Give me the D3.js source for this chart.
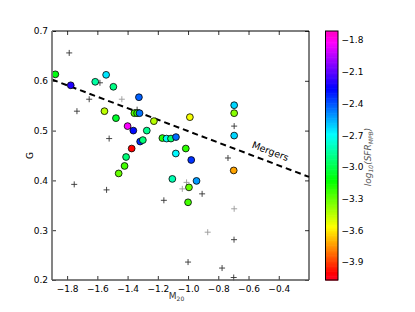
<!DOCTYPE html>
<html>
<head>
<meta charset="utf-8">
<script src="https://cdn.jsdelivr.net/npm/d3@7"></script>
<style>
  body { margin: 0; background: #fff; }
  text { font-family: "DejaVu Sans", sans-serif; }
</style>
</head>
<body>
<div id="chart"></div>
<script>
// galaxies with a measured SFR (coloured circles)
var m20 = [-1.878, -1.776, -1.614, -1.542, -1.494, -1.553, -1.477, -1.400, -1.362, -1.325,
           -1.355, -1.337, -1.321, -1.373, -1.317, -1.299, -1.273, -1.226, -0.988, -1.170,
           -1.142, -1.113, -1.080, -1.015, -1.081, -0.979, -1.410, -1.420, -1.459, -1.104,
           -0.944, -0.994, -1.000, -0.695, -0.695, -0.695, -0.698]
var gini = [0.613, 0.591, 0.598, 0.612, 0.588, 0.539, 0.525, 0.509, 0.500, 0.567,
            0.535, 0.535, 0.535, 0.464, 0.478, 0.481, 0.500, 0.519, 0.527, 0.485,
            0.484, 0.484, 0.487, 0.464, 0.454, 0.441, 0.447, 0.429, 0.414, 0.403,
            0.399, 0.386, 0.356, 0.551, 0.535, 0.490, 0.420]
var logSfr = [-3.10, -2.20, -2.85, -2.65, -2.90, -3.45, -3.05, -1.83, -2.27, -2.42,
              -3.27, -3.22, -2.45, -4.00, -2.33, -2.92, -2.88, -3.44, -3.55, -3.20,
              -2.70, -2.93, -2.44, -3.20, -2.68, -2.34, -2.92, -3.24, -3.30, -2.82,
              -2.52, -3.30, -3.24, -2.62, -3.36, -2.62, -3.72]

// galaxies without SFR (plus markers)
var plusM20 = [-1.786, -1.583, -1.654, -1.735, -1.522, -1.337, -1.753, -1.539, -1.160, -0.907,
               -1.000, -0.736, -0.695, -0.696, -0.775, -0.698]
var plusG = [0.656, 0.596, 0.563, 0.539, 0.484, 0.542, 0.392, 0.381, 0.360, 0.373,
             0.236, 0.445, 0.509, 0.281, 0.224, 0.205]
var faintM20 = [-1.438, -1.010, -1.038, -0.870, -0.695]
var faintG = [0.563, 0.396, 0.383, 0.296, 0.343]

var xTicks = [-1.8, -1.6, -1.4, -1.2, -1.0, -0.8, -0.6, -0.4]
var yTicks = [0.2, 0.3, 0.4, 0.5, 0.6, 0.7]
var cbTicks = [-1.8, -2.1, -2.4, -2.7, -3.0, -3.3, -3.6, -3.9]

// merger line G = -0.115 M20 + 0.384
var mergerSlope = -0.115
var mergerIntercept = 0.384
var mergerLabelAt = -0.48

var width = 415, height = 312
var margin = { top: 31, left: 52, right: 106, bottom: 32 }
var plotW = width - margin.left - margin.right
var plotH = height - margin.top - margin.bottom

var svg = d3.select("#chart").append("svg")
    .attr("width", width)
    .attr("height", height)

var g = svg.append("g")
    .attr("transform", `translate(${margin.left}, ${margin.top})`)

var x = d3.scaleLinear().domain([-1.9, -0.2]).range([0, plotW])
var y = d3.scaleLinear().domain([0.2, 0.7]).range([plotH, 0])

// gist_rainbow colormap
var vmin = -4.07, vmax = -1.715
var rainbow = d3.scaleLinear()
    .domain([0, 0.03, 0.215, 0.4, 0.586, 0.77, 0.954, 1])
    .range(["#ff0029", "#ff0000", "#ffff00", "#00ff00", "#00ffff", "#0000ff", "#ff00ff", "#ff00bf"])
var norm = d3.scaleLinear().domain([vmin, vmax]).range([0, 1])
var color = v => rainbow(norm(v))

// axes with inward ticks
var fmt = d3.format(".1f")
function styleAxis(sel) {
    sel.select(".domain").remove()
    sel.selectAll("line").attr("stroke", "#333")
    sel.selectAll("text").attr("font-size", 9).attr("fill", "#000")
}

g.append("g")
    .attr("transform", `translate(0,${plotH})`)
    .call(d3.axisBottom(x).tickValues(xTicks).tickFormat(fmt).tickSize(-4).tickPadding(6))
    .call(styleAxis)
g.append("g")
    .call(d3.axisTop(x).tickValues(xTicks).tickFormat("").tickSize(-4))
    .call(styleAxis)
g.append("g")
    .call(d3.axisLeft(y).tickValues(yTicks).tickFormat(fmt).tickSize(-4).tickPadding(4))
    .call(styleAxis)
g.append("g")
    .attr("transform", `translate(${plotW},0)`)
    .call(d3.axisRight(y).tickValues(yTicks).tickFormat("").tickSize(-4))
    .call(styleAxis)

// merger line
var line = m => mergerSlope * m + mergerIntercept
var xd = x.domain()
g.append("line")
    .attr("x1", x(xd[0])).attr("y1", y(line(xd[0])))
    .attr("x2", x(xd[1])).attr("y2", y(line(xd[1])))
    .attr("stroke", "#000")
    .attr("stroke-width", 2)
    .attr("stroke-dasharray", "6,4")

var angle = Math.atan2(y(line(xd[1])) - y(line(xd[0])), x(xd[1]) - x(xd[0])) * 180 / Math.PI
g.append("text")
    .attr("transform", `translate(${x(mergerLabelAt)},${y(line(mergerLabelAt))}) rotate(${angle})`)
    .attr("y", -7)
    .attr("text-anchor", "middle")
    .attr("font-size", 9.5)
    .text("Mergers")

// plus markers
function drawPlus(xs, ys, col) {
    g.selectAll(null)
        .data(xs.map((v, i) => [v, ys[i]]))
        .enter()
        .append("path")
        .attr("d", d => `M${x(d[0]) - 3},${y(d[1])}h6M${x(d[0])},${y(d[1]) - 3}v6`)
        .attr("stroke", col)
        .attr("stroke-width", 0.9)
}
drawPlus(plusM20, plusG, "#333")
drawPlus(faintM20, faintG, "#999")

// coloured circles
g.selectAll(null)
    .data(m20.map((v, i) => ({ m: v, g: gini[i], s: logSfr[i] })))
    .enter()
    .append("circle")
    .attr("cx", d => x(d.m))
    .attr("cy", d => y(d.g))
    .attr("r", 3.4)
    .attr("fill", d => color(d.s))
    .attr("stroke", "#000")
    .attr("stroke-width", 0.8)

// frame
g.append("line").attr("x1", 0).attr("x2", plotW).attr("y1", 0).attr("y2", 0).attr("stroke", "#000").attr("stroke-width", 1)
g.append("line").attr("x1", plotW).attr("x2", plotW).attr("y1", 0).attr("y2", plotH).attr("stroke", "#000").attr("stroke-width", 1)
g.append("line").attr("x1", 0).attr("x2", 0).attr("y1", 0).attr("y2", plotH).attr("stroke", "#777").attr("stroke-width", 1.8)
g.append("line").attr("x1", 0).attr("x2", plotW).attr("y1", plotH).attr("y2", plotH).attr("stroke", "#555").attr("stroke-width", 1.6)

// axis labels
svg.append("text")
    .attr("transform", `translate(33,${margin.top + plotH / 2}) rotate(-90)`)
    .attr("text-anchor", "middle")
    .attr("font-size", 9)
    .text("G")
var xl = svg.append("text")
    .attr("x", margin.left + plotW / 2 - 4)
    .attr("y", 299)
    .attr("text-anchor", "middle")
    .attr("font-size", 9)
    .attr("fill", "#333")
xl.append("tspan").text("M")
xl.append("tspan").attr("font-size", 6).attr("dy", 2).text("20")

// colorbar
var cbX = 325.5, cbW = 12.5, cbTop = 31, cbBot = 280
var cy = d3.scaleLinear().domain([vmin, vmax]).range([cbBot, cbTop])
var steps = d3.range(0, 200)
svg.append("g").selectAll("rect")
    .data(steps)
    .enter()
    .append("rect")
    .attr("x", cbX)
    .attr("width", cbW)
    .attr("y", i => cy(vmin + (i + 1) * (vmax - vmin) / 200))
    .attr("height", (cbBot - cbTop) / 200 + 0.6)
    .attr("fill", i => color(vmin + (i + 0.5) * (vmax - vmin) / 200))
svg.append("rect")
    .attr("x", cbX).attr("y", cbTop).attr("width", cbW).attr("height", cbBot - cbTop)
    .attr("fill", "none").attr("stroke", "#000").attr("stroke-width", 1)

svg.append("g")
    .attr("transform", `translate(${cbX + cbW},0)`)
    .call(d3.axisRight(cy).tickValues(cbTicks).tickFormat(fmt).tickSize(0).tickPadding(3.5))
    .call(styleAxis)

var cl = svg.append("text")
    .attr("transform", `translate(371,157) rotate(-90)`)
    .attr("text-anchor", "middle")
    .attr("font-size", 9)
    .attr("font-style", "italic")
    .attr("fill", "#555")
cl.append("tspan").text("log")
cl.append("tspan").attr("font-size", 6).attr("dy", 2).text("10")
cl.append("tspan").attr("dy", -2).text("(SFR")
cl.append("tspan").attr("font-size", 6).attr("dy", 2).text("MPB")
cl.append("tspan").attr("dy", -2).text(")")
</script>
</body>
</html>
